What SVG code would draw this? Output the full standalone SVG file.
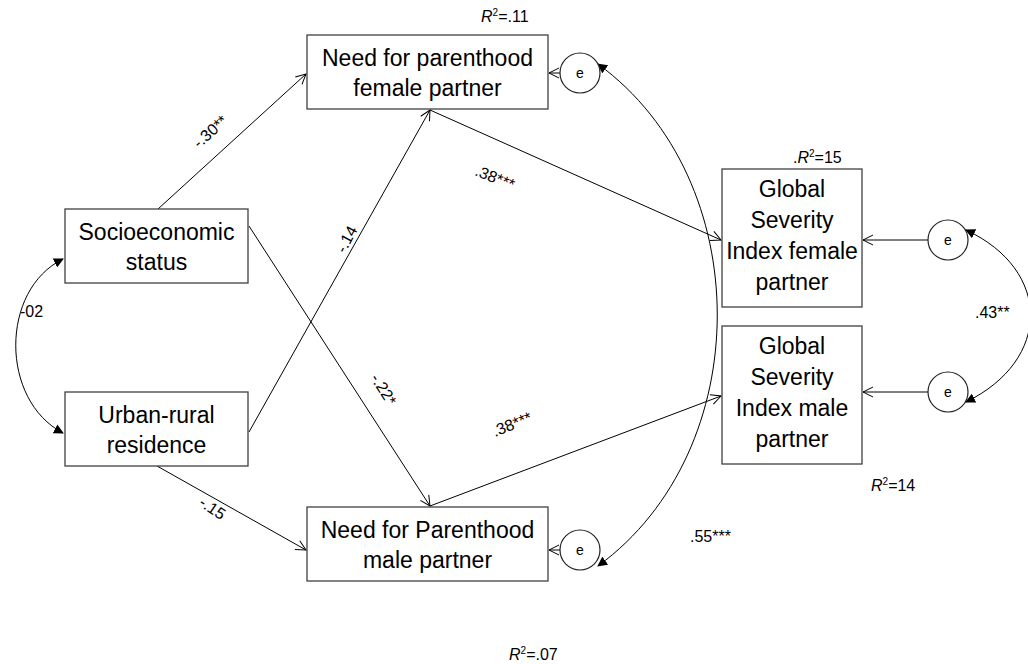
<svg xmlns="http://www.w3.org/2000/svg" width="1028" height="664" viewBox="0 0 1028 664">
  <style>
    .box { fill: #fff; stroke: #404040; stroke-width: 1.3; }
    .err { fill: #fff; stroke: #222; stroke-width: 1.2; }
    .lbl { font-family: "Liberation Sans", Arial, sans-serif; font-size: 23px; fill: #000; text-anchor: middle; }
    .e { font-family: "Liberation Sans", Arial, sans-serif; font-size: 14px; fill: #000; text-anchor: middle; }
    .coef { font-family: "Liberation Sans", Arial, sans-serif; font-size: 16px; fill: #000; }
    .path { fill: none; stroke: #000; stroke-width: 1; }
    .cov { fill: none; stroke: #000; stroke-width: 1; }
  </style>
  <defs>
    <marker id="open" viewBox="0 0 12 12" refX="11" refY="6" markerWidth="12" markerHeight="12" markerUnits="userSpaceOnUse" orient="auto">
      <path d="M1 1 L11 6 L1 11" fill="none" stroke="#000" stroke-width="1"/>
    </marker>
    <marker id="solid" viewBox="0 0 10 10" refX="9" refY="5" markerWidth="10" markerHeight="10" markerUnits="userSpaceOnUse" orient="auto-start-reverse">
      <path d="M0 0 L10 5 L0 10 Z" fill="#000"/>
    </marker>
  </defs>

  <!-- paths and covariances -->
  <g id="connectors">
    <line class="path" x1="158" y1="209" x2="306" y2="74" marker-end="url(#open)"/>
    <line class="path" x1="249" y1="226" x2="430" y2="506" marker-end="url(#open)"/>
    <line class="path" x1="249" y1="432" x2="430" y2="110" marker-end="url(#open)"/>
    <line class="path" x1="157" y1="466" x2="306" y2="550" marker-end="url(#open)"/>
    <line class="path" x1="430" y1="110" x2="721" y2="240" marker-end="url(#open)"/>
    <line class="path" x1="430" y1="506" x2="721" y2="396" marker-end="url(#open)"/>
    <line class="path" x1="560" y1="73" x2="549" y2="73" marker-end="url(#open)"/>
    <line class="path" x1="560" y1="550" x2="549" y2="550" marker-end="url(#open)"/>
    <line class="path" x1="928" y1="240" x2="863" y2="240" marker-end="url(#open)"/>
    <line class="path" x1="928" y1="392" x2="863" y2="392" marker-end="url(#open)"/>
    <path class="cov" d="M63 259 C0 290 0 400 63 433" marker-start="url(#solid)" marker-end="url(#solid)"/>
    <path class="cov" d="M598 64 C757 180 757 450 598 566" marker-start="url(#solid)" marker-end="url(#solid)"/>
    <path class="cov" d="M966 230 C1052 270 1052 360 966 402" marker-start="url(#solid)" marker-end="url(#solid)"/>
  </g>

  <!-- coefficients -->
  <g id="coefficients">
    <text class="coef" transform="translate(199 149) rotate(-42)">-.30**</text>
    <text class="coef" transform="translate(345 254) rotate(-62)">-.14</text>
    <text class="coef" transform="translate(370 378) rotate(58)">-.22*</text>
    <text class="coef" transform="translate(198 505) rotate(34)">-.15</text>
    <text class="coef" transform="translate(474 175) rotate(22)">.38***</text>
    <text class="coef" transform="translate(495 437) rotate(-22)">.38***</text>
    <text class="coef" x="20" y="317">-02</text>
    <text class="coef" x="690" y="542">.55***</text>
    <text class="coef" x="975" y="318">.43**</text>
  </g>

  <!-- R squared values -->
  <g id="r2">
    <text class="coef" x="481" y="22"><tspan font-style="italic">R</tspan><tspan font-size="10" dy="-6">2</tspan><tspan dy="6">=.11</tspan></text>
    <text class="coef" x="793" y="163">.<tspan font-style="italic">R</tspan><tspan font-size="10" dy="-6">2</tspan><tspan dy="6">=15</tspan></text>
    <text class="coef" x="871" y="491"><tspan font-style="italic">R</tspan><tspan font-size="10" dy="-6">2</tspan><tspan dy="6">=14</tspan></text>
    <text class="coef" x="509" y="660"><tspan font-style="italic">R</tspan><tspan font-size="10" dy="-6">2</tspan><tspan dy="6">=.07</tspan></text>
  </g>

  <g id="ses">
    <rect class="box" x="65" y="209" width="183" height="74"/>
    <text class="lbl" x="156.5" y="240">Socioeconomic</text>
    <text class="lbl" x="156.5" y="270">status</text>
  </g>
  <g id="urban">
    <rect class="box" x="65" y="392" width="183" height="74"/>
    <text class="lbl" x="156.5" y="423">Urban-rural</text>
    <text class="lbl" x="156.5" y="453">residence</text>
  </g>
  <g id="npf">
    <rect class="box" x="307" y="35" width="241" height="74"/>
    <text class="lbl" x="427.5" y="66">Need for parenthood</text>
    <text class="lbl" x="427.5" y="96">female partner</text>
  </g>
  <g id="npm">
    <rect class="box" x="307" y="507" width="241" height="74"/>
    <text class="lbl" x="427.5" y="538">Need for Parenthood</text>
    <text class="lbl" x="427.5" y="568">male partner</text>
  </g>
  <g id="gsif">
    <rect class="box" x="722" y="169" width="140" height="138"/>
    <text class="lbl" x="792" y="197">Global</text>
    <text class="lbl" x="792" y="228">Severity</text>
    <text class="lbl" x="792" y="259">Index female</text>
    <text class="lbl" x="792" y="290">partner</text>
  </g>
  <g id="gsim">
    <rect class="box" x="722" y="326" width="140" height="138"/>
    <text class="lbl" x="792" y="354">Global</text>
    <text class="lbl" x="792" y="385">Severity</text>
    <text class="lbl" x="792" y="416">Index male</text>
    <text class="lbl" x="792" y="447">partner</text>
  </g>
  <g id="e-npf">
    <circle class="err" cx="580" cy="73" r="20"/>
    <text class="e" x="580" y="78">e</text>
  </g>
  <g id="e-npm">
    <circle class="err" cx="580" cy="550" r="20"/>
    <text class="e" x="580" y="555">e</text>
  </g>
  <g id="e-gsif">
    <circle class="err" cx="948" cy="240" r="20"/>
    <text class="e" x="948" y="245">e</text>
  </g>
  <g id="e-gsim">
    <circle class="err" cx="948" cy="392" r="20"/>
    <text class="e" x="948" y="397">e</text>
  </g>
</svg>
